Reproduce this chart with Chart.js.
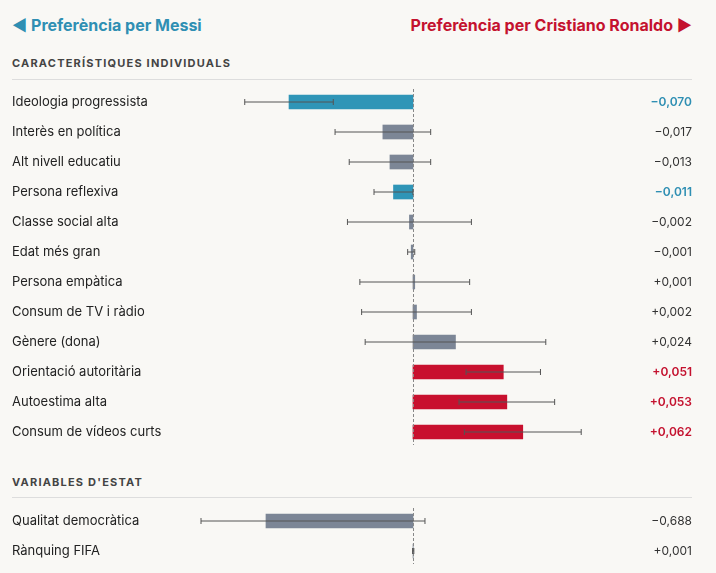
<!DOCTYPE html>
<html>
<head>
<meta charset="utf-8">
<script src="https://cdn.jsdelivr.net/npm/chart.js@4"></script>
<style>
  body { margin:0; background:#f9f8f5; font-family:"Inter","Liberation Sans",sans-serif; }
  #wrap { position:relative; width:716px; height:573px; }
  .hd { position:absolute; top:15px; font-size:16px; font-weight:700; }
  .sec { position:absolute; left:12px; font-size:11px; font-weight:700; letter-spacing:1.2px; color:#444; }
  .rule { position:absolute; left:12px; width:680px; height:1px; background:#ddd; }
  canvas { position:absolute; left:0; }
</style>
</head>
<body>
<div id="wrap">
  <div class="hd" style="left:12px;color:#2f8fb3">◄ Preferència per Messi</div>
  <div class="hd" style="right:24px;color:#c4122f">Preferència per Cristiano Ronaldo ►</div>
  <div class="sec" style="top:56px">CARACTERÍSTIQUES INDIVIDUALS</div>
  <div class="rule" style="top:79px"></div>
  <div class="sec" style="top:475px">VARIABLES D'ESTAT</div>
  <div class="rule" style="top:497px"></div>
  <canvas id="c1" style="top:87px"></canvas>
  <canvas id="c2" style="top:506px"></canvas>
</div>
<script>
// ===== Dades =====
const labels1 = ['Ideologia progressista', 'Interès en política', 'Alt nivell educatiu', 'Persona reflexiva',
  'Classe social alta', 'Edat més gran', 'Persona empàtica', 'Consum de TV i ràdio', 'Gènere (dona)',
  'Orientació autoritària', 'Autoestima alta', 'Consum de vídeos curts'];
const values1 = [-0.070, -0.017, -0.013, -0.011, -0.002, -0.001, 0.001, 0.002, 0.024, 0.051, 0.053, 0.062];
const lower1 = [-0.095, -0.044, -0.036, -0.022, -0.037, -0.003, -0.030, -0.029, -0.027, 0.030, 0.026, 0.029];
const upper1 = [-0.045, 0.010, 0.010, 0.000, 0.033, 0.001, 0.032, 0.033, 0.075, 0.072, 0.080, 0.095];
const groups1 = ['m', 'n', 'n', 'm', 'n', 'n', 'n', 'n', 'n', 'r', 'r', 'r'];

const labels2 = ['Qualitat democràtica', 'Rànquing FIFA'];
const values2 = [-0.688, 0.001];
const lower2 = [-0.992, -0.002];
const upper2 = [0.056, 0.004];
const groups2 = ['n', 'n'];

const fill = { m: '#2f95b7', r: '#c8102e', n: '#7c8696' };
const txt = { m: '#2f8fb3', r: '#c4122f', n: '#333' };

function fmt(v) {
  return (v < 0 ? '\u2212' : '+') + Math.abs(v).toFixed(3).replace('.', ',');
}

function makeChart(id, h, labels, values, lower, upper, groups, min, max) {
  const cv = document.getElementById(id);
  cv.style.width = '716px'; cv.style.height = h + 'px';
  const extras = {
    id: 'extras',
    afterDatasetsDraw(chart) {
      const ctx = chart.ctx, x = chart.scales.x, y = chart.scales.y;
      // línia del zero
      ctx.save();
      ctx.strokeStyle = '#888'; ctx.lineWidth = 1; ctx.setLineDash([3, 2]);
      const x0 = Math.round(x.getPixelForValue(0)) + 0.5;
      ctx.beginPath(); ctx.moveTo(x0, 2); ctx.lineTo(x0, h - 2); ctx.stroke();
      ctx.setLineDash([]);
      // barres d'error
      ctx.strokeStyle = '#555';
      values.forEach((v, i) => {
        const yy = y.getPixelForValue(i);
        const a = x.getPixelForValue(lower[i]), b = x.getPixelForValue(upper[i]);
        ctx.beginPath();
        ctx.moveTo(a, yy); ctx.lineTo(b, yy);
        ctx.moveTo(a, yy - 3); ctx.lineTo(a, yy + 3);
        ctx.moveTo(b, yy - 3); ctx.lineTo(b, yy + 3);
        ctx.stroke();
      });
      // etiquetes i valors
      ctx.textBaseline = 'middle';
      labels.forEach((l, i) => {
        const yy = y.getPixelForValue(i);
        ctx.fillStyle = '#222'; ctx.textAlign = 'left'; ctx.font = '13px Inter, sans-serif';
        ctx.fillText(l, 12, yy);
        ctx.fillStyle = txt[groups[i]]; ctx.textAlign = 'right';
        ctx.font = (groups[i] === 'n' ? '' : '600 ') + '12px Inter, sans-serif';
        ctx.fillText(fmt(values[i]), 692, yy);
      });
      ctx.restore();
    }
  };
  return new Chart(cv.getContext('2d'), {
    type: 'bar',
    data: {
      labels: labels,
      datasets: [{
        data: values,
        backgroundColor: groups.map(g => fill[g]),
        barThickness: 14,
        borderWidth: 0
      }]
    },
    options: {
      indexAxis: 'y',
      responsive: false,
      animation: false,
      layout: { padding: { left: 150, right: 76, top: 0, bottom: 0 } },
      scales: {
        x: { display: false, min: min, max: max },
        y: { display: false }
      },
      plugins: { legend: { display: false }, tooltip: { enabled: false } }
    },
    plugins: [extras]
  });
}

// zero a x=413 en tots dos gràfics
makeChart('c1', 360, labels1, values1, lower1, upper1, groups1, -0.1485, 0.1282);
makeChart('c2', 60, labels2, values2, lower2, upper2, groups2, -1.2307, 1.0622);
</script>
</body>
</html>
